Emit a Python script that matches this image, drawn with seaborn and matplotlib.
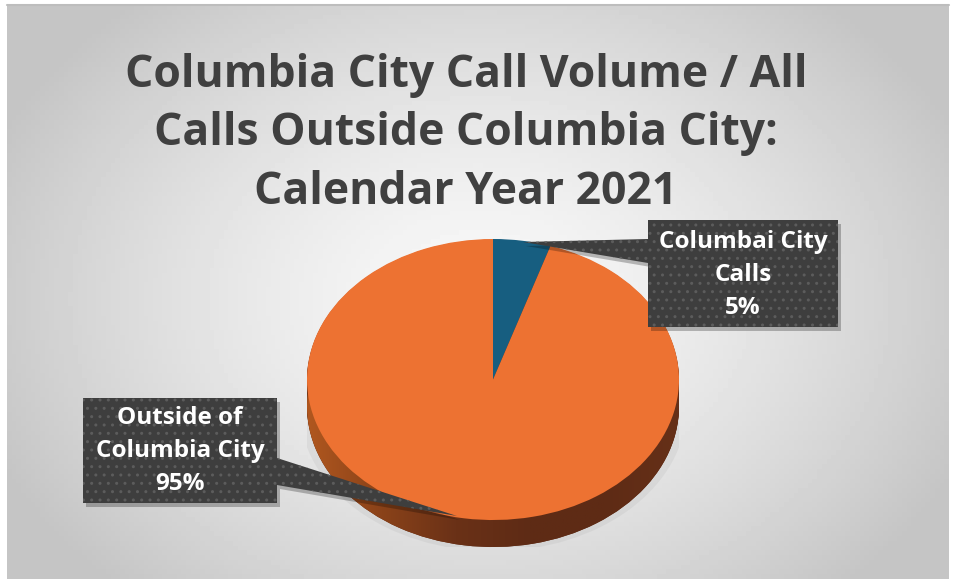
import numpy as np
import matplotlib.pyplot as plt
import seaborn as sns
from matplotlib.patches import Polygon, Ellipse
from matplotlib.colors import LinearSegmentedColormap

# data
categories = ["Columbai City\nCalls", "Outside of\nColumbia City"]
shares = [5, 95]
pct_labels = ["5%", "95%"]
title = "Columbia City Call Volume / All\nCalls Outside Columbia City:\nCalendar Year 2021"

sns.set_theme(style="white")
plt.rcParams['font.family'] = ['Open Sans', 'DejaVu Sans']

top_colors = ["#175E80", "#ED7232"]
side_colors = ["#0C3446", "#5E2B15"]

W, H = 958, 587
fig = plt.figure(figsize=(W / 100, H / 100), dpi=100)
fig.patch.set_facecolor("white")

# background axes in pixel coordinates
bg = fig.add_axes([0, 0, 1, 1])
bg.set_xlim(0, W)
bg.set_ylim(H, 0)
bg.axis("off")
xx, yy = np.meshgrid(np.linspace(7, 949, 200), np.linspace(5, 579, 120))
r = np.sqrt(((xx - 480) / 560) ** 2 + ((yy - 300) / 420) ** 2)
shade = np.clip(0.975 - 0.22 * r ** 1.4, 0.77, 0.975)
bg.imshow(shade, extent=(7, 949, 579, 5), cmap="gray", vmin=0, vmax=1, aspect="auto")
bg.plot([7, 949], [5, 5], color="#BDBDBD", lw=1.5)

bg.text(466, 134, title, ha="center", va="center", fontsize=32, fontweight="bold",
        color="#404040", linespacing=1.41)

# pie axes: squashed so the pie becomes an ellipse, stacked copies form the side
depth = 0.192
pax = fig.add_axes([307 / W, (H - 547) / H, 372 / W, 308 / H])
pax.add_patch(Ellipse((0.0, -depth - 0.01), 2.08, 2.04, color="#a0a0a0", alpha=0.15, lw=0))
no_edge = dict(linewidth=0, edgecolor="none")
for k in np.linspace(depth, 0.005, 25):
    wedges, _ = pax.pie(shares, colors=side_colors, startangle=90, counterclock=False,
                        center=(0, -k), radius=1, wedgeprops=no_edge)
    if k == depth:
        bottom_wedge = wedges[1]
side_cmap = LinearSegmentedColormap.from_list(
    "side", ["#B0571F", "#8A4219", "#6A3117", "#5E2B15", "#5E2B15", "#663018"])
grad = pax.imshow(np.linspace(0, 1, 256)[None, :], extent=(-1, 1, -1 - depth, 0),
                  cmap=side_cmap, aspect="auto", zorder=1.5)
pax.pie(shares, colors=top_colors, startangle=90, counterclock=False, radius=1,
        wedgeprops=no_edge)
pax.set_aspect("auto")
pax.set_xlim(-1, 1)
pax.set_ylim(-1 - depth, 1)
pax.axis("off")
grad.set_clip_path(bottom_wedge)
for w in pax.patches[-2:]:
    w.set_zorder(2)

# overlay for callouts
ov = fig.add_axes([0, 0, 1, 1])
ov.set_xlim(0, W)
ov.set_ylim(H, 0)
ov.axis("off")
ov.patch.set_alpha(0)

callouts = [
    [(648, 220), (838, 220), (838, 327), (648, 327), (648, 263), (523, 242), (648, 239)],
    [(83, 398), (277, 398), (277, 458), (457, 516), (277, 485), (277, 503), (83, 503)],
]
centers = [(743, 275), (180, 451)]
for verts, (cx, cy), cat, pct in zip(callouts, centers, categories, pct_labels):
    sh = np.array(verts) + [3, 4]
    ov.add_patch(Polygon(sh, closed=True, facecolor="#000000", alpha=0.25, lw=0))
    ov.add_patch(Polygon(verts, closed=True, facecolor="#3E3E3E", edgecolor="#5C5C5C",
                         lw=0, hatch=".."))
    ov.text(cx, cy, f"{cat}\n{pct}", ha="center", va="center", fontsize=17.5,
            fontweight="bold", color="white", linespacing=1.48)

fig.savefig("out.png", dpi=100)
